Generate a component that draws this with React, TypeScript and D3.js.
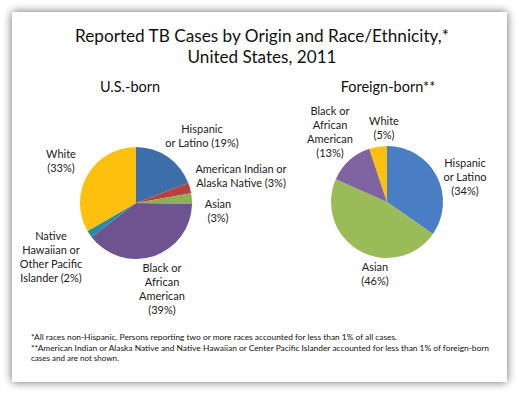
import React from "react";
import { pie, arc, PieArcDatum } from "d3";

const W = 519;
const H = 395;

// U.S.-born
const usCategories = [
  "Hispanic or Latino",
  "American Indian or Alaska Native",
  "Asian",
  "Black or African American",
  "Native Hawaiian or Other Pacific Islander",
  "White",
];
const usValues = [19, 3, 3, 39, 2, 33];
const usColors = ["#3e6ea9", "#b9403f", "#8db152", "#6d5490", "#2a8ca2", "#fec00f"];
const usLabels = [
  ["Hispanic", "or Latino (19%)"],
  ["American Indian or", "Alaska Native (3%)"],
  ["Asian", "(3%)"],
  ["Black or", "African", "American", "(39%)"],
  ["Native", "Hawaiian or", "Other Pacific", "Islander (2%)"],
  ["White", "(33%)"],
];

// Foreign-born
const fbCategories = ["Hispanic or Latino", "Asian", "Black or African American", "White"];
const fbValues = [34, 46, 13, 5];
const fbColors = ["#4a7ec4", "#9bbb59", "#8064a2", "#fec00f"];
const fbLabels = [
  ["Hispanic", "or Latino", "(34%)"],
  ["Asian", "(46%)"],
  ["Black or", "African", "American", "(13%)"],
  ["White", "(5%)"],
];

const footnotes = [
  "*All races non-Hispanic. Persons reporting two or more races accounted for less than 1% of all cases.",
  "**American Indian or Alaska Native and Native Hawaiian or Center Pacific Islander accounted for less than 1% of foreign-born",
  "cases and are not shown.",
];

// label anchors (centre x, first baseline), relative to pie centre
const usLabelPos = [
  [66, -70],
  [105, -30],
  [82, 5],
  [26, 69],
  [-85, 37],
  [-75, -45],
];
const fbLabelPos = [
  [78, -35],
  [-12, 69],
  [-57, -87],
  [-3, -77],
];

const font = "Lato, 'Open Sans', sans-serif";
const R = 56;
const LINE = 14;

type PieProps = {
  cx: number;
  cy: number;
  categories: string[];
  values: number[];
  colors: string[];
  labels: string[][];
  labelPos: number[][];
};

const Pie = ({ cx, cy, categories, values, colors, labels, labelPos }: PieProps) => {
  const slices = pie<number>().sort(null).value((d) => d)(values);
  const path = arc<PieArcDatum<number>>().innerRadius(0).outerRadius(R);

  return (
    <g transform={`translate(${cx},${cy})`}>
      {slices.map((s, i) => (
        <path key={categories[i]} d={path(s) || ""} fill={colors[i]} />
      ))}
      {labels.map((lines, i) => (
        <text
          key={categories[i]}
          x={labelPos[i][0]}
          y={labelPos[i][1]}
          textAnchor="middle"
          fontFamily={font}
          fontSize="11"
          fill="#222"
        >
          {lines.map((l, j) => (
            <tspan key={j} x={labelPos[i][0]} dy={j === 0 ? 0 : LINE}>
              {l}
            </tspan>
          ))}
        </text>
      ))}
    </g>
  );
};

const App = () => {
  return (
    <svg
      width={W}
      height={H}
      viewBox={`0 0 ${W} ${H}`}
      style={{ position: "absolute", left: 0, top: 0 }}
    >
      <defs>
        <filter id="shadow" x="-10%" y="-10%" width="120%" height="120%">
          <feGaussianBlur in="SourceAlpha" stdDeviation="5" />
          <feComponentTransfer>
            <feFuncA type="linear" slope="0.6" />
          </feComponentTransfer>
          <feMerge>
            <feMergeNode />
            <feMergeNode in="SourceGraphic" />
          </feMerge>
        </filter>
      </defs>
      <rect width={W} height={H} fill="#ffffff" />
      <rect x={12} y={12} width={495} height={370} fill="#ffffff" filter="url(#shadow)" />

      <text x={262} y={42} textAnchor="middle" fontFamily={font} fontSize="18" fill="#111"
        textLength={374} lengthAdjust="spacingAndGlyphs">
        Reported TB Cases by Origin and Race/Ethnicity,*
      </text>
      <text x={262} y={63} textAnchor="middle" fontFamily={font} fontSize="18" fill="#111"
        textLength={149} lengthAdjust="spacingAndGlyphs">
        United States, 2011
      </text>
      <text x={130} y={92} textAnchor="middle" fontFamily={font} fontSize="14.5" fill="#111">
        U.S.-born
      </text>
      <text x={388} y={92} textAnchor="middle" fontFamily={font} fontSize="14.5" fill="#111">
        Foreign-born**
      </text>

      <Pie cx={136} cy={203} categories={usCategories} values={usValues} colors={usColors}
        labels={usLabels} labelPos={usLabelPos} />
      <Pie cx={387} cy={202} categories={fbCategories} values={fbValues} colors={fbColors}
        labels={fbLabels} labelPos={fbLabelPos} />

      {footnotes.map((f, i) => (
        <text key={i} x={31} y={340 + i * 10.5} fontFamily={font} fontSize="8" fill="#111"
          textLength={i === 0 ? 366 : i === 1 ? 458 : undefined}
          lengthAdjust="spacingAndGlyphs">
          {f}
        </text>
      ))}
    </svg>
  );
};

export default App;
